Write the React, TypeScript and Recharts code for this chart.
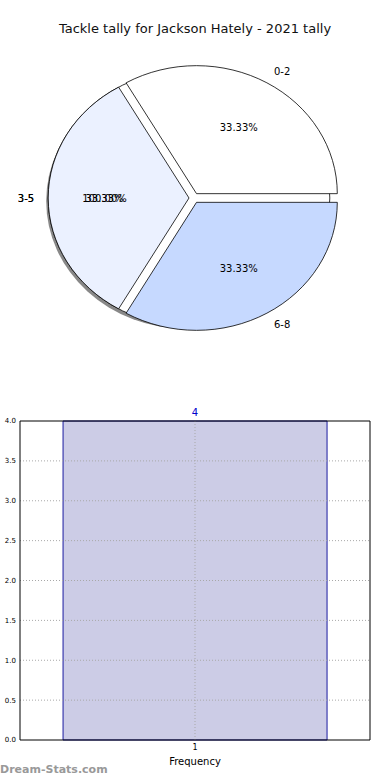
import React from 'react';
import {
  PieChart,
  Pie,
  BarChart,
  Bar,
  XAxis,
  YAxis,
  LabelList,
  ReferenceLine,
} from 'recharts';

// pie: tackle ranges, one game each
const rangeLabels = ['0-2', '3-5', '6-8'];
const rangeGames = [1, 1, 1];
// the whole-pie wedge drawn underneath (shows through the gaps)
const baseLabels = ['3-5'];
const baseGames = [1];

// histogram below
const freqBins = ['1'];
const freqCounts = [4];
const yTicks = [0, 0.5, 1, 1.5, 2, 2.5, 3, 3.5, 4];

const pieData = rangeLabels.map((name, i) => ({ name, value: rangeGames[i] }));
const baseData = baseLabels.map((name, i) => ({ name, value: baseGames[i] }));
const barData = freqBins.map((bin, i) => ({ bin, count: freqCounts[i] }));

const sliceColors = ['#ffffff', '#ebf1ff', '#c6d9ff'];
const FONT = '"DejaVu Sans", Verdana, sans-serif';
const RAD = Math.PI / 180;
const STRETCH = 1.1; // matplotlib pie is drawn as an oval here
const EXPLODE = 5;
const PIE_CX = 194;
const PIE_CY = 198;
const PIE_R = 128;

function ovalPath(props: any, dx = 0, dy = 0) {
  const { cx, cy, outerRadius, startAngle, endAngle } = props;
  const rx = outerRadius * STRETCH;
  const ry = outerRadius;
  const mid = ((startAngle + endAngle) / 2) * RAD;
  const ox = cx + EXPLODE * Math.cos(mid) + dx;
  const oy = cy - EXPLODE * Math.sin(mid) + dy;
  const span = endAngle - startAngle;
  if (Math.abs(span) >= 359.9) {
    return { full: true, ox, oy, rx, ry, d: '' };
  }
  const p0x = ox + rx * Math.cos(startAngle * RAD);
  const p0y = oy - ry * Math.sin(startAngle * RAD);
  const p1x = ox + rx * Math.cos(endAngle * RAD);
  const p1y = oy - ry * Math.sin(endAngle * RAD);
  const large = Math.abs(span) > 180 ? 1 : 0;
  const d = `M${ox},${oy} L${p0x},${p0y} A${rx},${ry} 0 ${large} 0 ${p1x},${p1y} Z`;
  return { full: false, ox, oy, rx, ry, d };
}

function OvalSlice(props: any) {
  const g = ovalPath(props);
  if (g.full) {
    return <ellipse cx={g.ox} cy={g.oy} rx={g.rx} ry={g.ry} fill={props.fill} stroke="#000" strokeWidth={0.8} />;
  }
  return <path d={g.d} fill={props.fill} stroke="#000" strokeWidth={0.8} strokeLinejoin="miter" />;
}

function ShadowSlice(props: any) {
  const g = ovalPath(props, -2, 3);
  if (g.full) {
    return <ellipse cx={g.ox} cy={g.oy} rx={g.rx} ry={g.ry} fill="#555" fillOpacity={0.7} stroke="none" />;
  }
  return <path d={g.d} fill="#555" fillOpacity={0.7} stroke="none" />;
}

function NoSlice() {
  return <g />;
}

function sliceLabel(props: any) {
  const { cx, cy, outerRadius, midAngle, percent, name } = props;
  const m = midAngle * RAD;
  const ox = cx + EXPLODE * Math.cos(m);
  const oy = cy - EXPLODE * Math.sin(m);
  const rx = outerRadius * STRETCH;
  const ry = outerRadius;
  const lx = ox + 1.1 * rx * Math.cos(m);
  const ly = oy - 1.1 * ry * Math.sin(m);
  const px = ox + 0.6 * rx * Math.cos(m);
  const py = oy - 0.6 * ry * Math.sin(m);
  const anchor = Math.cos(m) >= 0 ? 'start' : 'end';
  return (
    <g>
      <text x={lx} y={ly} textAnchor={anchor} dominantBaseline="central" fontSize={10} fontFamily={FONT} fill="#000">
        {name}
      </text>
      <text x={px} y={py} textAnchor="middle" dominantBaseline="central" fontSize={10} fontFamily={FONT} fill="#000">
        {(percent * 100).toFixed(2)}%
      </text>
    </g>
  );
}

const gridStyle = { stroke: '#a8a8a8', strokeDasharray: '1 2', strokeWidth: 1 };

export default function App() {
  return (
    <div style={{ position: 'absolute', left: 0, top: 0, width: 390, height: 780, background: '#fff', fontFamily: FONT }}>
      <div style={{ position: 'absolute', top: 21, left: 0, width: 390, textAlign: 'center', fontSize: 13, color: '#111' }}>
        Tackle tally for Jackson Hately - 2021 tally
      </div>

      <div style={{ position: 'absolute', top: 0, left: 0 }}>
        <PieChart width={390} height={380} margin={{ top: 0, right: 0, bottom: 0, left: 0 }}>
          <Pie
            data={baseData}
            dataKey="value"
            cx={PIE_CX}
            cy={PIE_CY}
            outerRadius={PIE_R}
            startAngle={0}
            endAngle={360}
            shape={ShadowSlice}
            inactiveShape={ShadowSlice}
            isAnimationActive={false}
          />
          <Pie
            data={baseData}
            dataKey="value"
            cx={PIE_CX}
            cy={PIE_CY}
            outerRadius={PIE_R}
            startAngle={0}
            endAngle={360}
            fill="#ffffff"
            shape={OvalSlice}
            inactiveShape={OvalSlice}
            isAnimationActive={false}
          />
          <Pie
            data={pieData}
            dataKey="value"
            nameKey="name"
            cx={PIE_CX}
            cy={PIE_CY}
            outerRadius={PIE_R}
            startAngle={0}
            endAngle={360}
            shape={(p: any) => <OvalSlice {...p} fill={sliceColors[p.index]} />}
            inactiveShape={(p: any) => <OvalSlice {...p} fill={sliceColors[p.index]} />}
            label={sliceLabel}
            labelLine={false}
            isAnimationActive={false}
          />
          <Pie
            data={baseData}
            dataKey="value"
            nameKey="name"
            cx={PIE_CX}
            cy={PIE_CY}
            outerRadius={PIE_R}
            startAngle={0}
            endAngle={360}
            shape={NoSlice}
            inactiveShape={NoSlice}
            label={sliceLabel}
            labelLine={false}
            isAnimationActive={false}
          />
        </PieChart>
      </div>

      <div style={{ position: 'absolute', top: 380, left: 0 }}>
        <BarChart
          width={390}
          height={400}
          data={barData}
          margin={{ top: 40, right: 19, bottom: 0, left: 19 }}
          barCategoryGap="12.3%"
        >
          <XAxis
            dataKey="bin"
            height={40}
            stroke="#000"
            tickLine={false}
            tickSize={2}
            tickMargin={2}
            tick={{ fontSize: 8, fill: '#000', fontFamily: FONT }}
            label={{ value: 'Frequency', position: 'insideBottom', offset: 15, fontSize: 10, fill: '#000', fontFamily: FONT }}
          />
          <XAxis xAxisId="top" dataKey="bin" orientation="top" height={1} stroke="#000" tick={false} tickLine={false} />
          <YAxis
            width={1}
            domain={[0, 4]}
            ticks={yTicks}
            stroke="#000"
            tickLine={false}
            tickSize={2}
            tickMargin={2}
            tickFormatter={(v: number) => v.toFixed(1)}
            tick={{ fontSize: 7, fill: '#000', fontFamily: FONT }}
          />
          <YAxis yAxisId="right" orientation="right" width={1} domain={[0, 4]} stroke="#000" tick={false} tickLine={false} />
          <Bar dataKey="count" fill="#ccccE6" stroke="#1a1aa0" strokeWidth={1} isAnimationActive={false}>
            <LabelList dataKey="count" position="top" fill="#0000cc" fontSize={10} fontFamily={FONT} />
          </Bar>
          {yTicks.slice(1, -1).map((t) => (
            <ReferenceLine key={t} y={t} {...gridStyle} />
          ))}
          <ReferenceLine x={freqBins[0]} {...gridStyle} />
        </BarChart>
      </div>

      <div style={{ position: 'absolute', left: 0, top: 763, fontSize: 11, fontWeight: 'bold', color: '#999' }}>
        Dream-Stats.com
      </div>
    </div>
  );
}
